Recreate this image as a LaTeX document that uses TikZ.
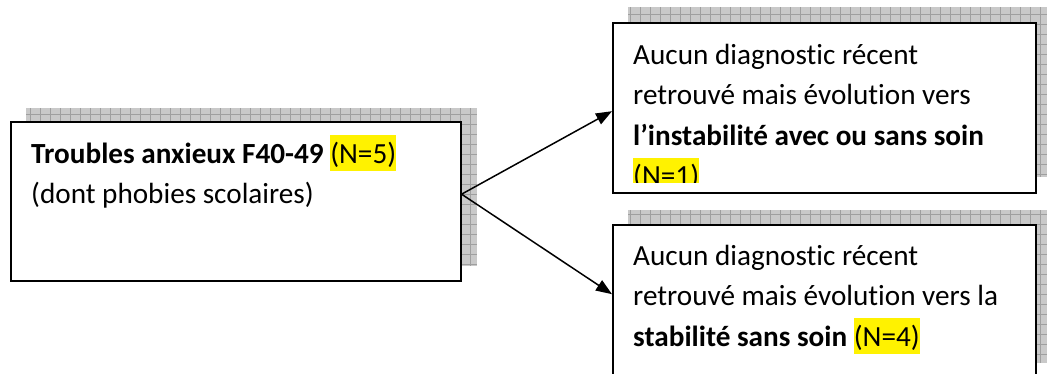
\documentclass[tikz,border=0pt]{standalone}
\usepackage{fontspec}
\setmainfont[Ligatures=NoCommon]{Carlito}
\usetikzlibrary{arrows.meta,calc}
\newcommand{\hly}[1]{{\setlength{\fboxsep}{0pt}\colorbox{yellow}{\rule[-8pt]{0pt}{36pt}#1}}}
\newcommand{\fstrut}{\rule{0pt}{30pt}}
\newcommand{\gridshadow}[2]{\fill[shadowfill] #1 rectangle #2;
  \draw[shadowgrid] #1 grid #2;}
\begin{document}
\begin{tikzpicture}[x=1pt,y=1pt,
 box/.style={draw=black,line width=1.6pt,fill=white,inner sep=0pt,anchor=south west},
 shadowfill/.style={fill=gray!42},
 shadowgrid/.style={draw=gray!75,line width=0.4pt,step=10pt},
 txt/.style={anchor=north west,inner sep=0pt,align=left,font=\fontsize{29.2}{40.5}\selectfont},
 arr/.style={-{Triangle[length=16pt,width=12pt]},line width=1.5pt}]
\clip (0,0) rectangle (1047,374);
% shadows
\gridshadow{(26,108)}{(477,266)}
\gridshadow{(628,197)}{(1047,367)}
\gridshadow{(628,11)}{(1047,164)}
% boxes
\node[box,minimum width=450pt,minimum height=159pt] (lb) at (10,92) {};
\node[box,minimum width=423pt,minimum height=170pt] (tr) at (612,180) {};
\node[box,minimum width=423pt,minimum height=158pt] (br) at (612,-10) {};
% texts
\node[txt] (t1) at (31,241) {\fstrut\textbf{Troubles anxieux F40-49} \hly{(N=5)}\\(dont phobies scolaires)};
\begin{scope}
\clip (612,191) rectangle (1035,350);
\node[txt] (t2) at (633,340) {\fstrut Aucun diagnostic récent\\retrouvé mais évolution vers\\\textbf{l’instabilité avec ou sans soin}\\\hly{(N=1)}};
\end{scope}
\node[txt] (t3) at (633,139) {\fstrut Aucun diagnostic récent\\retrouvé mais évolution vers la\\\textbf{stabilité sans soin} \hly{(N=4)}};
% arrows
\draw[arr] ([yshift=7.5pt]lb.east) -- ([yshift=-3pt]tr.west);
\draw[arr] ([yshift=7.5pt]lb.east) -- ([yshift=10pt]br.west);
\end{tikzpicture}
\end{document}
